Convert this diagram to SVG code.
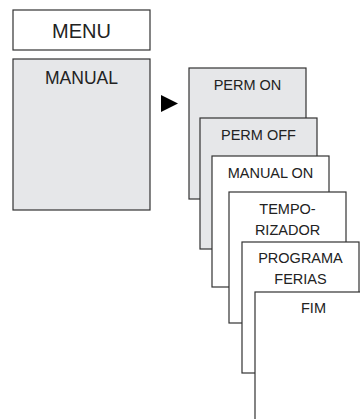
<svg xmlns="http://www.w3.org/2000/svg" width="360" height="419" viewBox="0 0 360 419">
<style>
.box{stroke:#333;stroke-width:1.2}
.g{fill:#e6e7e9}
.w{fill:#fff}
text{font-family:"Liberation Sans",Arial,sans-serif;fill:#222;text-anchor:middle}
.s{font-size:14.5px}
</style>
<rect width="360" height="419" fill="#fff"/>
<g id="menu"><rect class="box w" x="13" y="10" width="137" height="40"/><text x="81.5" y="37.5" font-size="20">MENU</text></g>
<g id="manual"><rect class="box g" x="13" y="59" width="137" height="151"/><text x="81.5" y="83.5" font-size="17.5">MANUAL</text></g>
<g id="connectors"><polygon points="161,95 178,103.5 161,112" fill="#000"/></g>
<g id="perm-on"><rect class="box g" x="189" y="68" width="117" height="131"/><text class="s" x="247.5" y="89.5">PERM ON</text></g>
<g id="perm-off"><rect class="box g" x="200" y="118" width="117" height="131"/><text class="s" x="258.5" y="140">PERM OFF</text></g>
<g id="manual-on"><rect class="box w" x="212" y="156" width="117" height="131"/><text class="s" x="270.5" y="178">MANUAL ON</text></g>
<g id="temporizador"><rect class="box w" x="229" y="192" width="117" height="131"/><text class="s" x="287.5" y="214">TEMPO-</text><text class="s" x="287.5" y="235">RIZADOR</text></g>
<g id="programa-ferias"><rect class="box w" x="242" y="242" width="117" height="131"/><text class="s" x="300.5" y="263">PROGRAMA</text><text class="s" x="300.5" y="284">FERIAS</text></g>
<g id="fim"><rect class="box w" x="255" y="292" width="117" height="135"/><text class="s" x="313.5" y="313">FIM</text></g>
</svg>
